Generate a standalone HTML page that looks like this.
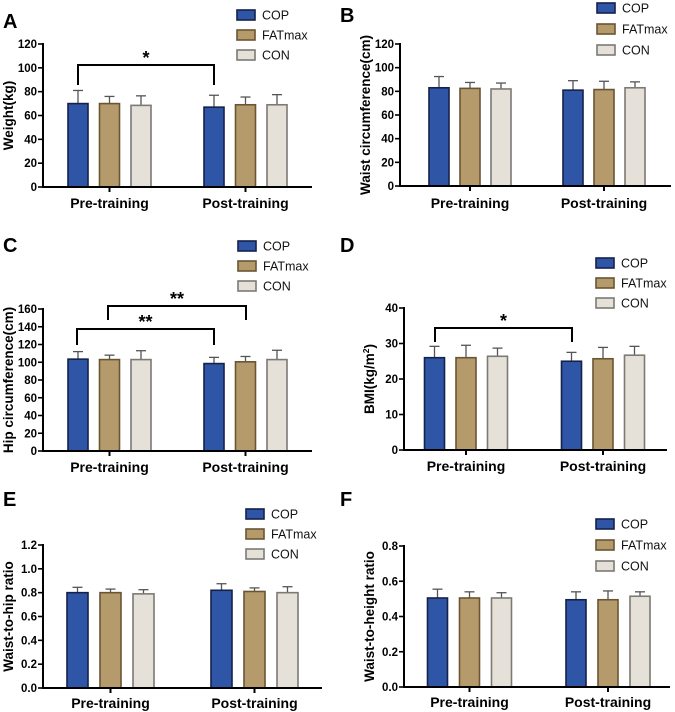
<!DOCTYPE html>
<html><head><meta charset="utf-8">
<style>
html,body{margin:0;padding:0;background:#fff;}
svg{display:block;font-family:"Liberation Sans",Arial,sans-serif;}
</style></head>
<body>
<svg id="fig" width="675" height="712" viewBox="0 0 675 712"></svg>
<script>
// ---- shared categories ----
const groups = ['Pre-training', 'Post-training'];
const series = ['COP', 'FATmax', 'CON'];

// ---- A: Weight ----
const weightCOP = [70, 67];      const weightCOPsd = [11, 10];
const weightFAT = [70, 69];      const weightFATsd = [6, 6.5];
const weightCON = [68.5, 69];    const weightCONsd = [8, 8.5];
const weightTicks = [0, 20, 40, 60, 80, 100, 120];

// ---- B: Waist circumference ----
const waistCOP = [83, 81];       const waistCOPsd = [9.5, 8];
const waistFAT = [82.5, 81.5];   const waistFATsd = [5, 7];
const waistCON = [82, 83];       const waistCONsd = [5, 5];
const waistTicks = [0, 20, 40, 60, 80, 100, 120];

// ---- C: Hip circumference ----
const hipCOP = [103.5, 98.5];    const hipCOPsd = [8.5, 7];
const hipFAT = [103, 100.5];     const hipFATsd = [5, 6];
const hipCON = [103, 103];       const hipCONsd = [10, 10.5];
const hipTicks = [0, 20, 40, 60, 80, 100, 120, 140, 160];

// ---- D: BMI ----
const bmiCOP = [26, 25];         const bmiCOPsd = [3.2, 2.5];
const bmiFAT = [26, 25.7];       const bmiFATsd = [3.5, 3.2];
const bmiCON = [26.4, 26.7];     const bmiCONsd = [2.3, 2.5];
const bmiTicks = [0, 10, 20, 30, 40];

// ---- E: Waist-to-hip ratio ----
const whrCOP = [0.80, 0.82];     const whrCOPsd = [0.045, 0.055];
const whrFAT = [0.80, 0.81];     const whrFATsd = [0.03, 0.03];
const whrCON = [0.79, 0.80];     const whrCONsd = [0.035, 0.05];
const whrTicks = [0, 0.2, 0.4, 0.6, 0.8, 1.0, 1.2];

// ---- F: Waist-to-height ratio ----
const whtCOP = [0.505, 0.495];   const whtCOPsd = [0.05, 0.045];
const whtFAT = [0.505, 0.495];   const whtFATsd = [0.035, 0.05];
const whtCON = [0.505, 0.515];   const whtCONsd = [0.03, 0.025];
const whtTicks = [0, 0.2, 0.4, 0.6, 0.8];

const fills = ['#2f56a6', '#b59b6c', '#e5e1d9'];
const strokes = ['#15214a', '#6a5533', '#7c7a75'];
const NS = 'http://www.w3.org/2000/svg';
const svg = document.getElementById('fig');

function mk(tag, attrs, parent) {
  const e = document.createElementNS(NS, tag);
  for (const k in attrs) e.setAttribute(k, attrs[k]);
  (parent || svg).appendChild(e);
  return e;
}

const panels = [
  {id:'a', letter:'A', lx:3, ly:28, x0:43, x1:312, y0:187, yT:44, ticks:weightTicks, dec:0, centers:[109.5,245.5], sp:31.5, bw:20,
   data:[[weightCOP,weightCOPsd],[weightFAT,weightFATsd],[weightCON,weightCONsd]], ylabel:'Weight(kg)', legX:237, legY:[15,35,55], glY:208,
   sig:[{y:65, x1:78, x2:214, d:20, t:'*'}]},
  {id:'b', letter:'B', lx:340, ly:22, x0:400, x1:671, y0:186, yT:44, ticks:waistTicks, dec:0, centers:[470,604], sp:31, bw:20,
   data:[[waistCOP,waistCOPsd],[waistFAT,waistFATsd],[waistCON,waistCONsd]], ylabel:'Waist circumference(cm)', legX:597, legY:[8,29,50], glY:208, sig:[]},
  {id:'c', letter:'C', lx:3, ly:252, x0:43, x1:312, y0:451, yT:309, ticks:hipTicks, dec:0, centers:[109.5,245.5], sp:31.5, bw:20,
   data:[[hipCOP,hipCOPsd],[hipFAT,hipFATsd],[hipCON,hipCONsd]], ylabel:'Hip circumference(cm)', legX:238, legY:[246,266,286], glY:472,
   sig:[{y:306, x1:108, x2:246, d:14, t:'**'},{y:329, x1:77, x2:214, d:16, t:'**'}]},
  {id:'d', letter:'D', lx:340, ly:252, x0:404, x1:667, y0:450, yT:308, ticks:bmiTicks, dec:0, centers:[466,603], sp:31.5, bw:20,
   data:[[bmiCOP,bmiCOPsd],[bmiFAT,bmiFATsd],[bmiCON,bmiCONsd]], ylabel:'BMI(kg/m', sup:true, legX:596, legY:[263,283,303], glY:471,
   sig:[{y:328, x1:435, x2:572, d:14, t:'*'}]},
  {id:'e', letter:'E', lx:3, ly:506, x0:43, x1:322, y0:688, yT:545, ticks:whrTicks, dec:1, centers:[110.5,254.5], sp:33, bw:21,
   data:[[whrCOP,whrCOPsd],[whrFAT,whrFATsd],[whrCON,whrCONsd]], ylabel:'Waist-to-hip ratio', legX:246, legY:[514,534,554], glY:708, sig:[]},
  {id:'f', letter:'F', lx:340, ly:506, x0:404, x1:670, y0:687, yT:546, ticks:whtTicks, dec:1, centers:[469.5,608], sp:32, bw:20,
   data:[[whtCOP,whtCOPsd],[whtFAT,whtFATsd],[whtCON,whtCONsd]], ylabel:'Waist-to-height ratio', legX:596, legY:[524,545,566], glY:707, sig:[]}
];

panels.forEach(p => {
  const g = mk('g', {});
  
  
  const tMax = p.ticks[p.ticks.length - 1];
  const yS = v => p.y0 - (v / tMax) * (p.y0 - p.yT);

  const lt = mk('text', {x:p.lx, y:p.ly, 'font-size':20, 'font-weight':'bold', fill:'#000'}, g);
  lt.textContent = p.letter;
  
  

  series.forEach((s, si) => {
    const [means, sds] = p.data[si];
    groups.forEach((gr, gi) => {
      const cx = p.centers[gi] + (si - 1) * p.sp;
      const top = yS(means[gi]);
      const et = yS(means[gi] + sds[gi]);
      const eb = mk('line', {x1:cx, x2:cx, y1:top, y2:et, stroke:'#555', 'stroke-width':1.3}, g);
      
      
      const cap = mk('line', {x1:cx-5, x2:cx+5, y1:et, y2:et, stroke:'#555', 'stroke-width':1.3}, g);
      
      
      const r = mk('rect', {x:cx - p.bw/2, y:top, width:p.bw, height:p.y0 - top, fill:fills[si], stroke:strokes[si], 'stroke-width':1.6}, g);
      
      
    });
  });

  const ya = mk('line', {x1:p.x0, x2:p.x0, y1:p.yT - 1, y2:p.y0 + 1, stroke:'#000', 'stroke-width':2}, g);
  
  
  const xa = mk('line', {x1:p.x0 - 1, x2:p.x1, y1:p.y0, y2:p.y0, stroke:'#000', 'stroke-width':2}, g);
  
  
  p.ticks.forEach(t => {
    const y = yS(t);
    mk('line', {x1:p.x0 - 5, x2:p.x0, y1:y, y2:y, stroke:'#000', 'stroke-width':1.6}, g);
    const tx = mk('text', {x:p.x0 - 6, y:y + 4, 'font-size':11.5, 'font-weight':'bold', 'text-anchor':'end'}, g);
    tx.textContent = t.toFixed(p.dec);
    
    
  });
  groups.forEach((gr, gi) => {
    const cx = p.centers[gi];
    mk('line', {x1:cx, x2:cx, y1:p.y0, y2:p.y0 + 5, stroke:'#000', 'stroke-width':2}, g);
    const tx = mk('text', {x:cx, y:p.glY, 'font-size':14, 'font-weight':'bold', 'text-anchor':'middle'}, g);
    tx.textContent = gr;
    
    
  });

  const ym = (p.y0 + p.yT) / 2;
  const yl = mk('text', {x:0, y:0, 'font-size':13.5, 'font-weight':'bold', 'text-anchor':'middle',
    transform:`translate(${p.x0 - 30},${ym}) rotate(-90)`}, g);
  yl.textContent = p.ylabel;
  if (p.sup) {
    const sp = mk('tspan', {'font-size':8.5, dy:-5}, yl); sp.textContent = '2';
    const sp2 = mk('tspan', {dy:5}, yl); sp2.textContent = ')';
  }
  
  

  p.sig.forEach(s => {
    const pl = mk('polyline', {points:`${s.x1},${s.y + s.d} ${s.x1},${s.y} ${s.x2},${s.y} ${s.x2},${s.y + s.d}`, fill:'none', stroke:'#000', 'stroke-width':2}, g);
    
    
    const st = mk('text', {x:(s.x1 + s.x2)/2, y:s.y - 1, 'font-size':18, 'font-weight':'bold', 'text-anchor':'middle'}, g);
    st.textContent = s.t;
    
    
  });

  series.forEach((s, si) => {
    const y = p.legY[si];
    const sw = mk('rect', {x:p.legX, y:y - 5, width:18, height:10, fill:fills[si], stroke:strokes[si], 'stroke-width':1.6}, g);
    
    
    const tx = mk('text', {x:p.legX + 25, y:y + 4.5, 'font-size':12.5, fill:'#111'}, g);
    tx.textContent = s;
    
    
  });
});
</script>
</body></html>
